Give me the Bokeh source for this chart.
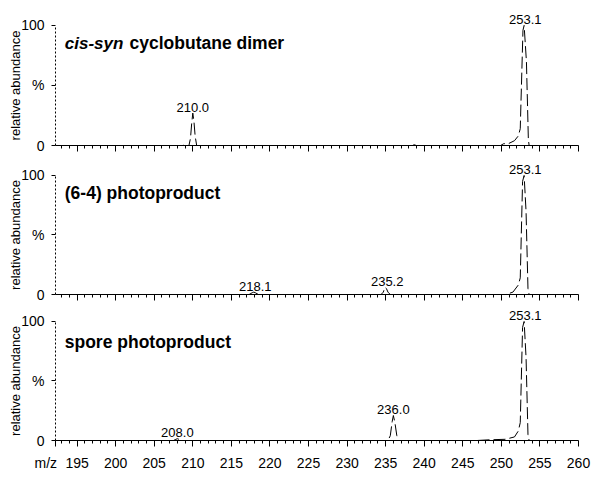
from bokeh.plotting import figure
from bokeh.layouts import column
from bokeh.models import Range1d, FixedTicker, LinearAxis
from bokeh.core.properties import value
from bokeh.embed import file_html
from bokeh.resources import INLINE

FONT = "Liberation Sans"
X_START, X_END = 192.2, 260.0

# ---- data ----
# Panel 1: cis-syn cyclobutane dimer
mz_cis = [192.2, 208.3, 208.6, 208.9, 209.5, 209.7, 209.85, 210.0, 210.15, 210.3, 210.5, 211.0,
          238.2, 238.6, 239.0, 249.9, 250.3, 250.9, 251.7, 252.2, 252.45, 252.8, 252.95,
          253.25, 253.5, 253.6, 254.0, 260.0]
ab_cis = [0, 0, 0.6, 0, 0, 6, 18, 27, 20, 8, 0, 0,
          0, 0.8, 0, 0, 1.5, 1.5, 4, 8, 14, 96, 100,
          70, 5, 0, 0, 0]
pk_mz_cis = [210.0, 253.1]
pk_ab_cis = [27, 100]

# Panel 2: (6-4) photoproduct
mz_64 = [192.2, 217.3, 217.7, 217.9, 218.1, 218.5, 234.4, 234.7, 234.9, 235.1, 235.3, 235.6,
         250.6, 251.5, 252.2, 252.45, 252.75, 252.95, 253.2, 253.45, 253.6, 254.0, 260.0]
ab_64 = [0, 0, 1.5, 2, 1.5, 0, 0, 2, 6, 5, 2, 0,
         0, 2, 8, 14, 95, 100, 70, 5, 0, 0, 0]
pk_mz_64 = [218.1, 235.2, 253.1]
pk_ab_64 = [2, 6, 100]

# Panel 3: spore photoproduct
mz_sp = [192.2, 207.5, 207.8, 208.0, 208.2, 208.5, 235.3, 235.6, 235.85, 236.0, 236.2, 236.45,
         236.6, 246.8, 248.5, 250.5, 251.7, 252.2, 252.45, 252.75, 252.95, 253.2, 253.45,
         253.6, 254.0, 260.0]
ab_sp = [0, 0, 1, 1.5, 1, 0, 0, 4, 16, 21, 15, 4,
         0, 0, 0.6, 1, 3, 8, 15, 95, 100, 70, 5,
         0, 0, 0]
pk_mz_sp = [208.0, 236.0, 253.1]
pk_ab_sp = [1.5, 21, 100]

titles = [("cis-syn", "cyclobutane dimer"), ("", "(6-4) photoproduct"), ("", "spore photoproduct")]
y_tick_values = [0, 50, 100]
y_tick_labels = {0: "0", 50: "%", 100: "100"}
x_major_ticks = list(range(195, 261, 5))
x_minor_ticks = [v for v in range(193, 261) if v % 5 != 0]
x_axis_name = "m/z"
y_axis_name = "relative abundance"

# ---- layout ----
panels = [
    dict(mz=mz_cis, ab=ab_cis, pmz=pk_mz_cis, pab=pk_ab_cis, title=titles[0],
         y_end=120.8, top=0, bottom=10, frame=145, title_y=85, labels=False),
    dict(mz=mz_64, ab=ab_64, pmz=pk_mz_64, pab=pk_ab_64, title=titles[1],
         y_end=115.1, top=2, bottom=10, frame=137, title_y=85.5, labels=False),
    dict(mz=mz_sp, ab=ab_sp, pmz=pk_mz_sp, pab=pk_ab_sp, title=titles[2],
         y_end=112.6, top=2, bottom=35, frame=134, title_y=82.5, labels=True),
]

figs = []
for pn in panels:
    h = pn["top"] + pn["frame"] + pn["bottom"]
    p = figure(width=594, height=h, output_backend="svg", toolbar_location=None,
               x_range=Range1d(X_START, X_END), y_range=Range1d(0, pn["y_end"]),
               min_border_left=55, min_border_right=16,
               min_border_top=pn["top"], min_border_bottom=pn["bottom"])
    p.outline_line_color = None
    p.grid.visible = False
    p.background_fill_color = "white"
    p.border_fill_color = "white"

    # x axis
    xa = p.xaxis[0]
    xa.axis_line_color = "black"
    xa.major_tick_line_color = "black"
    xa.minor_tick_line_color = "black"
    xa.major_tick_out = 6
    xa.major_tick_in = 0
    xa.minor_tick_out = 3
    xa.minor_tick_in = 0
    if pn["labels"]:
        xa.ticker = FixedTicker(ticks=[X_START] + x_major_ticks, minor_ticks=x_minor_ticks)
        xa.major_label_overrides = {X_START: x_axis_name + "\u00a0" * 5}
        xa.major_label_text_font = FONT
        xa.major_label_text_font_size = "14px"
        xa.major_label_text_color = "black"
        xa.major_label_standoff = 8
    else:
        xa.ticker = FixedTicker(ticks=x_major_ticks, minor_ticks=x_minor_ticks)
        xa.major_label_text_color = None
        xa.major_label_text_font_size = "1px"
        xa.major_label_standoff = 0

    # y axis
    ya = p.yaxis[0]
    ya.ticker = FixedTicker(ticks=y_tick_values)
    ya.major_label_overrides = y_tick_labels
    ya.bounds = (0, 100)
    ya.axis_line_color = "black"
    ya.axis_line_dash = "2 2"
    ya.major_tick_line_color = "black"
    ya.major_tick_out = 4
    ya.major_tick_in = 0
    ya.minor_tick_line_color = None
    ya.major_label_text_font = FONT
    ya.major_label_text_font_size = "14px"
    ya.major_label_text_color = "black"
    ya.major_label_standoff = 7

    # y axis title as a vertical tick label of an outer, line-less axis
    yt = LinearAxis(ticker=FixedTicker(ticks=[50]), major_label_overrides={50: y_axis_name},
                    major_label_orientation="vertical", axis_line_color=None,
                    major_tick_line_color=None, minor_tick_line_color=None,
                    major_tick_out=0, major_tick_in=0, major_label_standoff=-5,
                    major_label_text_font=FONT, major_label_text_font_size="13px",
                    major_label_text_color="black")
    p.add_layout(yt, "left")

    # spectrum
    p.line(pn["mz"], pn["ab"], line_color="black", line_width=1, line_dash="12 4")

    # peak labels
    p.text(x=pn["pmz"], y=[a + 5 for a in pn["pab"]], text=[f"{m:.1f}" for m in pn["pmz"]],
           text_font=value(FONT), text_font_size="13px", text_align="center",
           text_baseline="alphabetic", text_color="black")

    # panel title
    ital, rest = pn["title"]
    x0 = 193.4
    if ital:
        p.text(x=[x0], y=[pn["title_y"]], text=[ital], text_font=value(FONT),
               text_font_size="17px", text_font_style="bold italic",
               text_align="left", text_baseline="middle", text_color="black")
        x0 = 201.8
    p.text(x=[x0], y=[pn["title_y"]], text=[rest], text_font=value(FONT),
           text_font_size="17.5px", text_font_style="bold",
           text_align="left", text_baseline="middle", text_color="black")
    figs.append(p)

layout = column(*figs, spacing=0)
open("out.html", "w").write(file_html(layout, INLINE))
